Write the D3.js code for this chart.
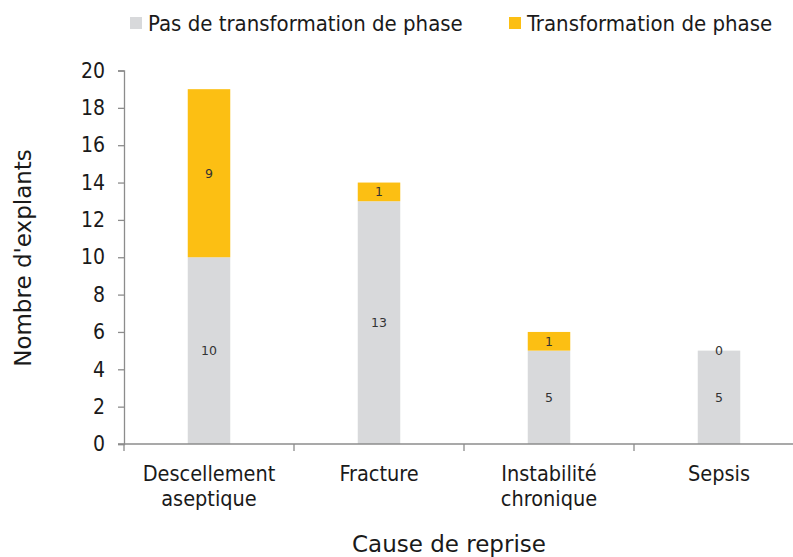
<!DOCTYPE html>
<html>
<head>
<meta charset="utf-8">
<script src="https://cdn.jsdelivr.net/npm/d3@7"></script>
<style>
  html, body { margin: 0; padding: 0; background: #fff; }
  svg text { font-family: "DejaVu Sans Condensed", "DejaVu Sans", sans-serif; fill: #1a1a1a; }
</style>
</head>
<body>
<svg id="chart" width="793" height="557"></svg>
<script>
// Causes de reprise et nombre d'explants par groupe
const categories = [["Descellement", "aseptique"], ["Fracture"], ["Instabilité", "chronique"], ["Sepsis"]];
const noTransformation = [10, 13, 5, 5];
const transformation = [9, 1, 1, 0];
const seriesNames = ["Pas de transformation de phase", "Transformation de phase"];
const seriesColors = ["#d8d9db", "#fcbf13"];
const yTicks = [0, 2, 4, 6, 8, 10, 12, 14, 16, 18, 20];

const svg = d3.select("#chart");
const keys = categories.map(c => c.join(" "));

const x = d3.scaleBand().domain(keys).range([124, 804]).paddingInner(0.75).paddingOuter(0.375);
const y = d3.scaleLinear().domain([0, 20]).range([444, 70.5]);

const rows = keys.map((k, i) => ({ key: k, a: noTransformation[i], b: transformation[i] }));
const stacked = d3.stack().keys(["a", "b"])(rows);

// bars
svg.append("g").selectAll("g").data(stacked).join("g")
  .attr("fill", (d, i) => seriesColors[i])
  .selectAll("rect").data(d => d).join("rect")
  .attr("x", d => x(d.data.key))
  .attr("width", x.bandwidth())
  .attr("y", d => y(d[1]))
  .attr("height", d => y(d[0]) - y(d[1]));

// value labels centred in each segment
svg.append("g").selectAll("g").data(stacked).join("g")
  .selectAll("text").data(d => d).join("text")
  .attr("x", d => x(d.data.key) + x.bandwidth() / 2)
  .attr("y", d => y((d[0] + d[1]) / 2))
  .attr("dy", "0.35em")
  .attr("text-anchor", "middle")
  .style("font-family", "'DejaVu Sans', sans-serif")
  .style("font-size", "12.5px")
  .style("fill", "#333")
  .text(d => d[1] - d[0]);

// y axis
const yAxis = svg.append("g").attr("transform", "translate(124,0)")
  .call(d3.axisLeft(y).tickValues(yTicks).tickSize(6).tickPadding(13).tickFormat(d3.format("d")));
yAxis.selectAll("text").style("font-size", "21px").style("fill", "#1a1a1a");

// x axis with ticks at band boundaries
const xAxisG = svg.append("g").attr("transform", "translate(0,444)");
xAxisG.append("line").attr("x1", 118).attr("x2", 804).attr("y1", 0).attr("y2", 0);
const step = x.step();
const boundaries = d3.range(keys.length + 1).map(i => x.range()[0] + i * step);
xAxisG.selectAll("line.tick").data(boundaries).join("line").attr("class", "tick")
  .attr("x1", d => d).attr("x2", d => d).attr("y1", 0).attr("y2", 7);
xAxisG.selectAll("line").attr("stroke", "#8c8c8c").attr("stroke-width", 1.3);
yAxis.selectAll("line, path").attr("stroke", "#8c8c8c").attr("stroke-width", 1.3);

const catLabels = svg.append("g").selectAll("text").data(categories).join("text")
  .attr("x", (d, i) => x(keys[i]) + x.bandwidth() / 2)
  .attr("y", 481)
  .attr("text-anchor", "middle")
  .style("font-size", "21.5px");
catLabels.selectAll("tspan").data(d => d).join("tspan")
  .attr("x", function () { return this.parentNode.getAttribute("x"); })
  .attr("dy", (d, i) => i === 0 ? 0 : 25)
  .text(d => d);

// axis titles
svg.append("text").attr("x", 449).attr("y", 552).attr("text-anchor", "middle")
  .style("font-family", "'DejaVu Sans', sans-serif")
  .style("font-size", "23px").text("Cause de reprise");
svg.append("text").attr("transform", "translate(31,258) rotate(-90)").attr("text-anchor", "middle")
  .style("font-family", "'DejaVu Sans', sans-serif")
  .style("font-size", "23px").text("Nombre d'explants");

// legend
const legend = svg.append("g");
const legendX = [130, 509];
seriesNames.forEach((name, i) => {
  legend.append("rect").attr("x", legendX[i]).attr("y", 17).attr("width", 12).attr("height", 12).attr("fill", seriesColors[i]);
  legend.append("text").attr("x", legendX[i] + 18).attr("y", 31).style("font-size", "22px").text(name);
});
</script>
</body>
</html>
